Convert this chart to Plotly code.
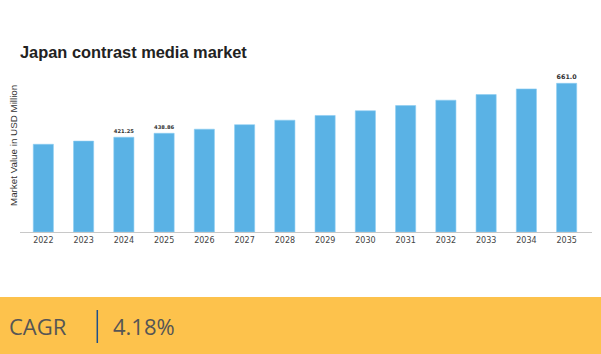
import plotly.graph_objects as go

years = ["2022", "2023", "2024", "2025", "2026", "2027", "2028",
         "2029", "2030", "2031", "2032", "2033", "2034", "2035"]
values = [390, 404, 421.25, 438.86, 457, 477, 497, 518, 539, 562, 586, 611, 636, 661.0]
labels = ["", "", "421.25", "438.86", "", "", "", "", "", "", "", "", "", "661.0"]
title_text = "Japan contrast media market"
y_title = "Market Value in USD Million"
cagr_label = "CAGR"
cagr_value = "4.18%"

W, H = 601, 354
L, R, T, B = 20, 9, 60, 122
PW, PH = W - L - R, H - T - B


def px(x):
    return (x - L) / PW


def py(y):
    return (H - B - y) / PH


fig = go.Figure()
fig.add_trace(go.Bar(
    x=years, y=values, text=labels, textposition="outside",
    textfont=dict(family="DejaVu Sans", size=7.5, color="#333333", weight="bold"),
    marker=dict(color="#5AB2E5", line=dict(color="#8ccdf2", width=0.6)),
    width=0.5, cliponaxis=False, hoverinfo="skip",
))

fig.update_layout(
    width=W, height=H, margin=dict(l=L, r=R, t=T, b=B),
    paper_bgcolor="white", plot_bgcolor="white", showlegend=False,
    title=dict(text=title_text, x=20 / W, xanchor="left", xref="container",
               y=1 - 52 / H, yanchor="middle", yref="container",
               font=dict(family="Liberation Sans", size=16.4, color="#222222", weight="bold")),
    xaxis=dict(type="category", range=[-0.58, 13.63], showline=True, linecolor="#c8c8c8",
               linewidth=1, showgrid=False, ticks="", zeroline=False,
               tickfont=dict(family="DejaVu Sans", size=8, color="#444444")),
    yaxis=dict(range=[0, 764.6], showticklabels=False, showgrid=False, zeroline=False,
               showline=False, ticks=""),
    bargap=0.5,
)

fig.add_annotation(text=y_title, xref="paper", yref="paper", x=px(13), y=py(146),
                   xanchor="center", yanchor="middle", textangle=-90, showarrow=False,
                   font=dict(family="Liberation Sans", size=9.8, color="#333333"))

# bottom band
fig.add_shape(type="rect", xref="paper", yref="paper", x0=px(0), x1=px(W), y0=py(H), y1=py(297),
              fillcolor="#FDC24C", line=dict(width=0), layer="below")
fig.add_shape(type="line", xref="paper", yref="paper", x0=px(97.3), x1=px(97.3),
              y0=py(310), y1=py(343), line=dict(color="#1f4f8a", width=1.5))
fig.add_annotation(text=cagr_label, xref="paper", yref="paper", x=px(7), y=py(326),
                   xanchor="left", yanchor="middle", showarrow=False,
                   font=dict(family="Open Sans", size=22, color="#555555"))
fig.add_annotation(text=cagr_value, xref="paper", yref="paper", x=px(110.5), y=py(326),
                   xanchor="left", yanchor="middle", showarrow=False,
                   font=dict(family="Open Sans", size=22, color="#555555"))

fig.write_html("out.html")
